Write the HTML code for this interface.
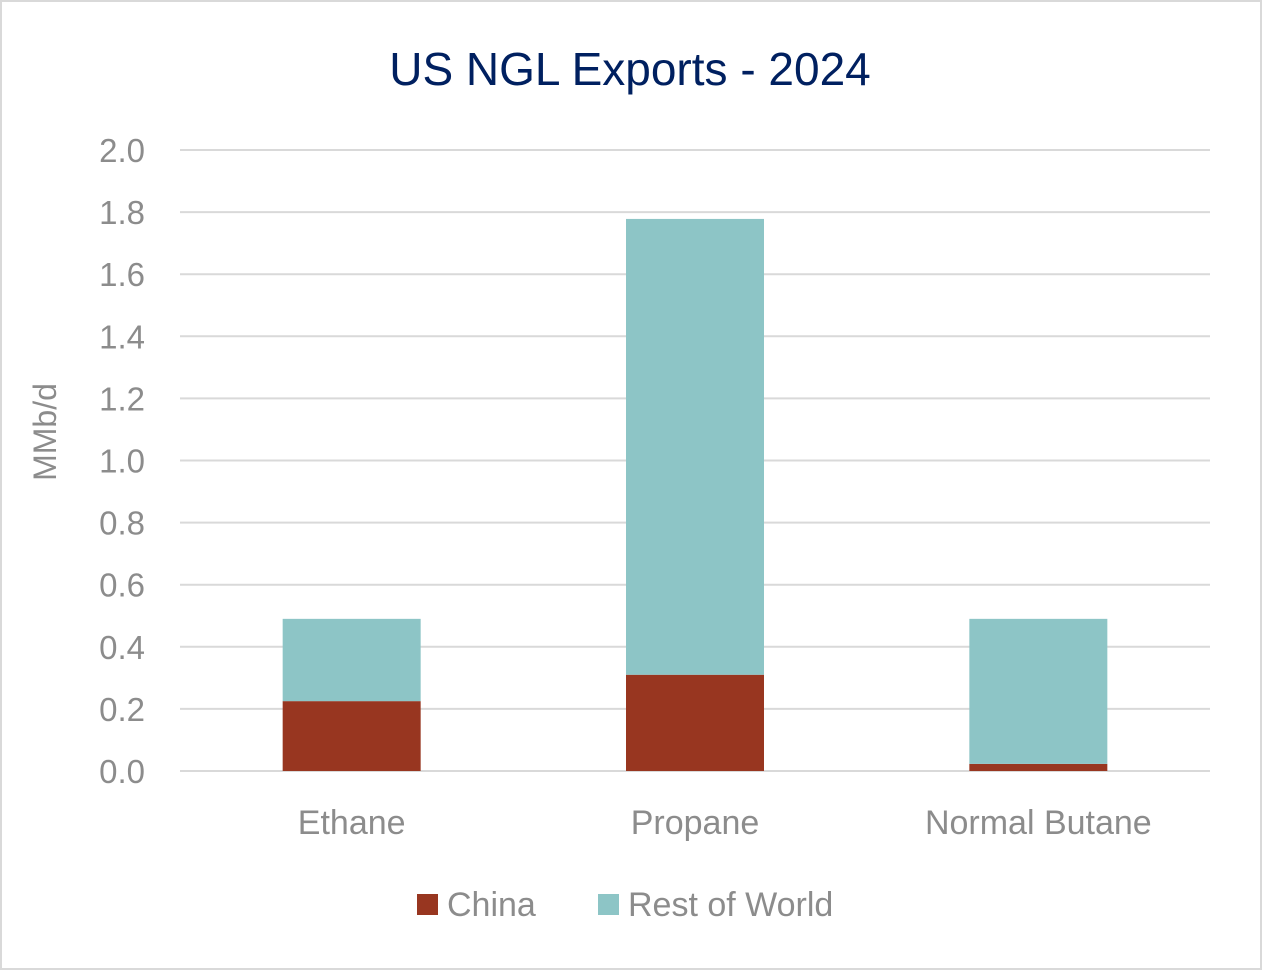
<!DOCTYPE html>
<html><head><meta charset="utf-8"><style>
body{margin:0;background:#fff;}
svg{display:block;font-family:"Liberation Sans",sans-serif;}
</style></head><body>
<svg width="1262" height="970">
<rect x="1" y="1" width="1260" height="968" fill="#fff" stroke="#d9d9d9" stroke-width="2"/>
<text x="630" y="85" text-anchor="middle" font-size="46" fill="#002060">US NGL Exports - 2024</text>
<text transform="translate(56,432) rotate(-90)" text-anchor="middle" font-size="32" fill="#8c8c8c">MMb/d</text>
<g id="grid"></g><g id="bars"></g><g id="labels"></g>
<g>
<rect x="417" y="894" width="21" height="21" fill="#983620"/>
<text x="447" y="916" font-size="34" fill="#8c8c8c">China</text>
<rect x="598" y="894" width="21" height="21" fill="#8dc5c6"/>
<text x="628" y="916" font-size="34" fill="#8c8c8c">Rest of World</text>
</g>
</svg>
<script>
const categories=["Ethane","Propane","Normal Butane"];
const china=[0.225,0.31,0.023];
const restOfWorld=[0.265,1.468,0.467];
const yTicks=[0,0.2,0.4,0.6,0.8,1.0,1.2,1.4,1.6,1.8,2.0];
const NS="http://www.w3.org/2000/svg";
const x0=180,x1=1210,y0=771,y1=150,yMax=2.0;
const y=v=>y0-(v/yMax)*(y0-y1);
const band=(x1-x0)/categories.length;
const cx=i=>x0+band*(i+0.5);
const bw=138;
function mk(tag,attrs,parent){const e=document.createElementNS(NS,tag);for(const k in attrs)e.setAttribute(k,attrs[k]);parent.appendChild(e);return e;}
const grid=document.getElementById('grid'),bars=document.getElementById('bars'),labels=document.getElementById('labels');
yTicks.forEach(t=>{
 const l=mk('line',{x1:x0,x2:x1,y1:y(t),y2:y(t),stroke:'#d9d9d9','stroke-width':2},grid);
 
 
 const tx=mk('text',{x:145,y:y(t)+12,'text-anchor':'end','font-size':33,fill:'#8c8c8c'},labels);
 tx.textContent=t.toFixed(1);
 
 
});
categories.forEach((c,i)=>{
 const r1=mk('rect',{x:cx(i)-bw/2,y:y(china[i]),width:bw,height:y(0)-y(china[i]),fill:'#983620'},bars);
 
 
 const tot=china[i]+restOfWorld[i];
 const r2=mk('rect',{x:cx(i)-bw/2,y:y(tot),width:bw,height:y(china[i])-y(tot),fill:'#8dc5c6'},bars);
 
 
 const tx=mk('text',{x:cx(i),y:834,'text-anchor':'middle','font-size':34,fill:'#8c8c8c'},labels);
 tx.textContent=c;
 
 
});
</script>
</body></html>
